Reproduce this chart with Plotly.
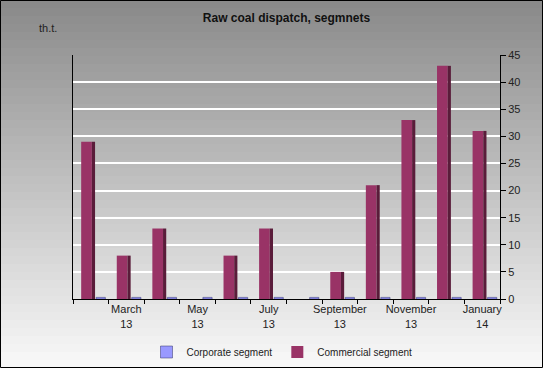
import plotly.graph_objects as go

months = ["February 13", "March 13", "April 13", "May 13", "June 13", "July 13",
          "August 13", "September 13", "October 13", "November 13", "December 13", "January 14"]
tick_labels = ["", "March<br>13", "", "May<br>13", "", "July<br>13",
               "", "September<br>13", "", "November<br>13", "", "January<br>14"]
commercial = [29, 8, 13, 0, 8, 13, 0, 5, 21, 33, 43, 31]
corporate = [0.3, 0.3, 0.3, 0.3, 0.3, 0.3, 0.3, 0.3, 0.3, 0.3, 0.3, 0.3]
y_ticks = [0, 5, 10, 15, 20, 25, 30, 35, 40, 45]

W, H = 543, 368
ML, MR, MT, MB = 73, 43, 55, 69
PW, PH = W - ML - MR, H - MT - MB

FONT = "Liberation Sans, Arial, sans-serif"

fig = go.Figure()
fig.add_trace(go.Bar(x=months, y=commercial, name="Commercial segment",
                     marker=dict(color="#993366", line=dict(width=0)),
                     width=0.3, offset=-0.27, legendrank=2))
fig.add_trace(go.Bar(x=months, y=commercial, name="side", showlegend=False,
                     marker=dict(color="#5a1c3a", line=dict(width=0)),
                     width=0.09, offset=0.03, hoverinfo="skip"))
fig.add_trace(go.Bar(x=months, y=corporate, name="Corporate segment",
                     marker=dict(color="#9999ff", line=dict(width=0.5, color="#333366")),
                     width=0.26, offset=0.15, legendrank=1))

# background gradient over the whole figure
x0p, x1p = -ML / PW, 1 + MR / PW
y0p, y1p = -MB / PH, 1 + MT / PH
shapes = []
n = 46
for i in range(n):
    t = i / (n - 1)
    g = int(round(138 + (248 - 138) * t))
    ya = y1p - (y1p - y0p) * i / n
    yb = y1p - (y1p - y0p) * (i + 1) / n
    shapes.append(dict(type="rect", xref="paper", yref="paper", x0=x0p, x1=x1p,
                       y0=yb, y1=ya, fillcolor=f"rgb({g},{g},{g})",
                       line=dict(width=0), layer="below"))
shapes.append(dict(type="rect", xref="paper", yref="paper",
                   x0=x0p + 0.5 / PW, x1=x1p - 0.5 / PW, y0=y0p + 0.5 / PH, y1=y1p - 0.5 / PH,
                   line=dict(color="black", width=1), fillcolor="rgba(0,0,0,0)", layer="above"))

fig.update_layout(
    width=W, height=H,
    margin=dict(l=ML, r=MR, t=MT, b=MB, autoexpand=False),
    paper_bgcolor="#c0c0c0",
    plot_bgcolor="rgba(0,0,0,0)",
    font=dict(family=FONT, size=11, color="#222222"),
    barmode="overlay",
    title=dict(text="<b>Raw coal dispatch, segmnets</b>", x=0.5, xref="paper",
               y=1 - 18 / H, yanchor="middle", font=dict(size=12, color="#111111")),
    showlegend=True,
    legend=dict(orientation="h", x=(282 - ML) / PW, xanchor="center", xref="paper",
                y=-(352 - (MT + PH)) / PH, yanchor="middle",
                font=dict(size=10, color="#222222"), bgcolor="rgba(0,0,0,0)",
                itemwidth=30, traceorder="normal"),
    shapes=shapes,
    annotations=[dict(text="th.t.", xref="paper", yref="paper",
                      x=(37 - ML) / PW, y=1 + (MT - 28) / PH, xanchor="left", yanchor="middle",
                      showarrow=False, font=dict(size=11, color="#222222"))],
    xaxis=dict(type="category", tickmode="array", tickvals=months, ticktext=tick_labels,
               tickson="boundaries", ticks="outside", ticklen=4, tickcolor="black",
               tickangle=0, automargin=False,
               showline=True, linecolor="black", linewidth=1, showgrid=False,
               tickfont=dict(size=11, color="#222222"), range=[-0.5, 11.5]),
    yaxis=dict(side="right", range=[0, 45], tickmode="array", tickvals=y_ticks,
               ticks="outside", ticklen=5, tickcolor="black", automargin=False,
               showline=True, linecolor="black", linewidth=1, mirror=True,
               showgrid=True, gridcolor="white", gridwidth=1.5, zeroline=False,
               tickfont=dict(size=11, color="#222222")),
)

fig.write_html("out.html", config={"displayModeBar": False},
               post_script="document.body.style.margin='0';document.body.style.padding='0';")
